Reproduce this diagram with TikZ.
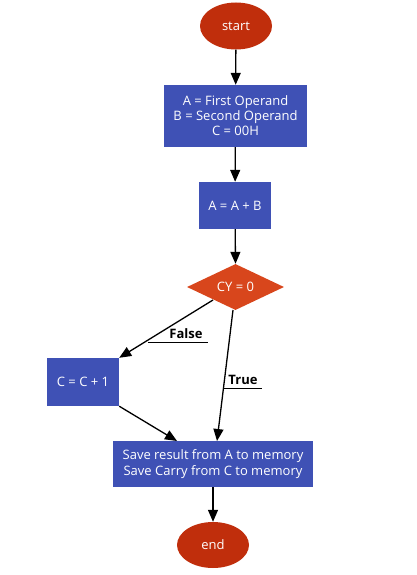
\documentclass[tikz,border=0pt]{standalone}
\usepackage{fontspec}
\setmainfont{Open Sans}
\usetikzlibrary{shapes.geometric,arrows.meta}
\definecolor{termred}{RGB}{192,46,12}
\definecolor{procblue}{RGB}{63,81,181}
\definecolor{decorange}{RGB}{216,70,28}
\tikzset{
  x=1pt,y=-1pt,
  term/.style={ellipse,fill=termred,text=white,minimum width=72pt,minimum height=47pt,inner sep=0pt,font=\fontsize{13}{15}\selectfont},
  proc/.style={rectangle,fill=procblue,text=white,inner sep=0pt,align=center,font=\fontsize{13}{15}\selectfont},
  conn/.style={line width=1.3pt,-{Triangle[length=12pt,width=10pt]}},
  lbl/.style={font=\bfseries\fontsize{13}{15}\selectfont,inner sep=0pt},
  uline/.style={line width=1pt}
}
\begin{document}
\begin{tikzpicture}
\useasboundingbox (0,0) rectangle (417,575);
\node[term] (start) at (236,26) {start};
\node[proc,minimum width=143pt,minimum height=62pt] (init) at (235.5,116) {A = First Operand\\B = Second Operand\\C = 00H};
\node[proc,minimum width=72pt,minimum height=47pt] (add) at (235,205.5) {A = A + B};
\node[diamond,fill=decorange,minimum width=97pt,minimum height=46pt,inner sep=0pt] (cy) at (235.5,287) {};
\node[text=white,font=\fontsize{13}{15}\selectfont] (cyt) at (235.5,287) {CY = 0};
\node[proc,minimum width=72pt,minimum height=48pt] (inc) at (83,382) {C = C + 1};
\node[proc,minimum width=200pt,minimum height=46pt,font=\fontsize{13}{16}\selectfont] (save) at (213,464) {Save result from A to memory\\Save Carry from C to memory};
\node[term,minimum height=46pt] (end) at (213,545) {end};
\coordinate (fs) at (213,300);
\coordinate (ts) at (233,310);
\coordinate (isave) at (177,441);
\coordinate (tsave) at (217,441);
\draw[conn] (start) -- (init);
\draw[conn] (init) -- (add);
\draw[conn] (add) -- (cy.north);
\draw[conn] (fs) -- (inc.north east);
\draw[conn] (ts) -- (tsave);
\draw[conn] (inc.south east) -- (isave);
\draw[conn] (save) -- (end);
\coordinate (fu1) at (148,342);
\coordinate (fu2) at (208,342);
\draw[uline] (fu1) -- (fu2);
\node[lbl,anchor=south] (flbl) at (186,338.5) {False};
\coordinate (tu1) at (223,388);
\coordinate (tu2) at (262,388);
\draw[uline] (tu1) -- (tu2);
\node[lbl,anchor=south] (tlbl) at (243,384.5) {True};
\end{tikzpicture}
\end{document}
